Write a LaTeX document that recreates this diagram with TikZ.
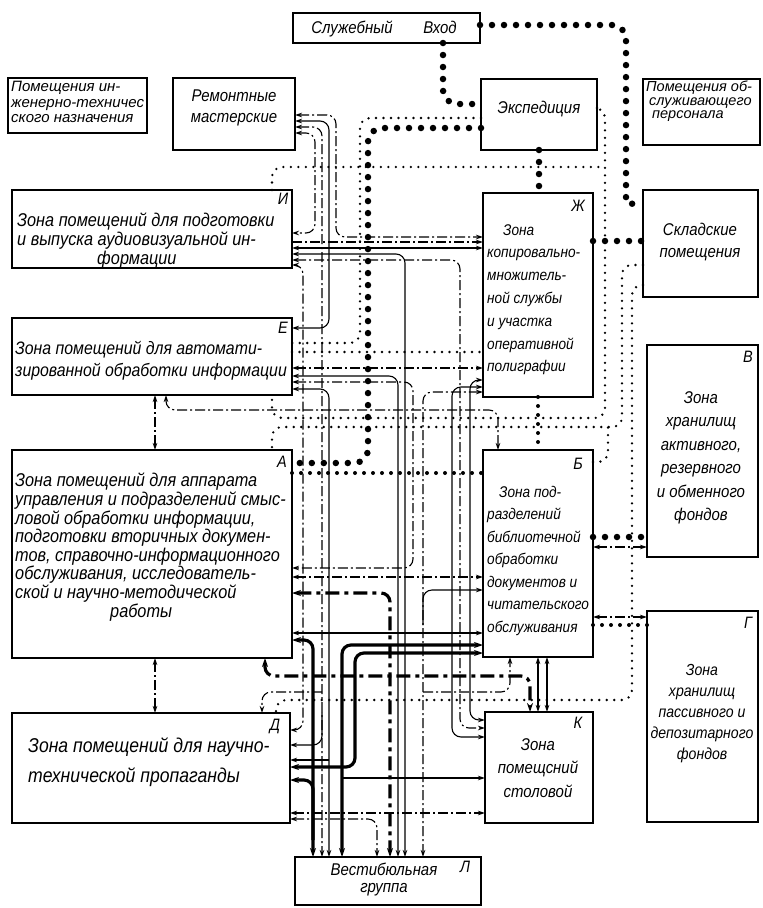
\documentclass[tikz,border=0pt]{standalone}
\usepackage{fontspec}
\setmainfont{Liberation Sans}[FakeStretch=0.88]
\newfontfamily\nf{Liberation Sans}
\usetikzlibrary{arrows.meta,calc}
\newcommand{\zbx}[5]{\node[box,minimum width={(#4)-(#2)},minimum height={(#5)-(#3)}] (#1) at (#2,#3) {};}
\newcommand{\fs}[2]{\itshape\fontsize{#1}{#2}\selectfont}
\begin{document}
\begin{tikzpicture}[x=1pt,y=-1pt,
  box/.style={draw,line width=2.2pt,inner sep=0pt,outer sep=0pt,anchor=north west},
  txt/.style={inner sep=0pt,font=\fs{17}{20},align=left,anchor=north west},
  ctxt/.style={txt,align=center,anchor=north},
  lbl/.style={inner sep=0pt,font=\fs{16.5}{16.5}},
  con/.style={line width=1.1pt,rounded corners=9pt,>={Stealth[length=7pt,width=4.5pt]}},
  th/.style={con},
  dd/.style={con,dash pattern=on 10pt off 3pt on 2pt off 3pt},
  thk/.style={con,line width=3.2pt,>={Stealth[length=9pt,width=6pt]}},
  tdd/.style={thk,dash pattern=on 14pt off 5pt on 4pt off 5pt},
  sdot/.style={line width=2.6pt,line cap=round,dash pattern=on 0pt off 7.5pt,rounded corners=10pt},
  mdot/.style={line width=4pt,line cap=round,dash pattern=on 0pt off 9pt,rounded corners=10pt},
  bdot/.style={line width=6.5pt,line cap=round,dash pattern=on 0pt off 12pt,rounded corners=14pt}]
\useasboundingbox (0,0) rectangle (763,908);
% boxes
\zbx{SV}{293}{13}{480}{43}
\zbx{PIT}{8}{78}{147}{133}
\zbx{RM}{173}{78}{295}{150}
\zbx{EX}{481}{79}{597}{150}
\zbx{POP}{643}{79}{760}{145}
\zbx{I}{12}{190}{292}{268}
\zbx{ZH}{483}{193}{593}{397}
\zbx{SK}{643}{190}{758}{297}
\zbx{E}{12}{318}{292}{395}
\zbx{V}{647}{345}{758}{557}
\zbx{A}{12}{450}{292}{658}
\zbx{B}{483}{450}{593}{657}
\zbx{G}{647}{611}{758}{822}
\zbx{D}{12}{713}{290}{823}
\zbx{K}{485}{712}{593}{823}
\zbx{L}{295}{857}{481}{905}
% texts
\node[ctxt] (tSV) at (384,21) {Служебный\hspace{1.8em}Вход};
\node[txt,font={\nf\fs{15}{15.5}}] (tPIT) at (11,81) {Помещения ин-\\женерно-техничес\\ского назначения};
\node[ctxt,font=\fs{17}{21}] (tRM) at (234,90) {Ремонтные\\мастерские};
\node[ctxt] (tEX) at (539,101) {Экспедиция};
\node[txt,font={\nf\fs{14.5}{13.5}}] (tPOP) at (646,81) {Помещения об-\\\hspace*{3pt}служивающего\\\hspace*{6pt}персонала};
\node[txt,font=\fs{18.5}{19}] (tI) at (17,213) {Зона помещений для подготовки\\и выпуска аудиовизуальной ин-\\\hspace*{80pt}формации};
\node[txt,font=\fs{18}{22}] (tE) at (15,341) {Зона помещений для автомати-\\зированной обработки информации};
\node[txt,font=\fs{18.5}{18.6}] (tA) at (15,473) {Зона помещений для аппарата\\управления и подразделений смыс-\\ловой обработки информации,\\подготовки вторичных докумен-\\тов, справочно-информационного\\обслуживания, исследователь-\\ской и научно-методической\\\hspace*{95pt}работы};
\node[txt,font=\fs{15.5}{22.8}] (tZH) at (487,224) {\hspace*{16pt}Зона\\копировально-\\множитель-\\ной службы\\и участка\\оперативной\\полиграфии};
\node[ctxt,font=\fs{17}{22}] (tSK) at (700,223) {Складские\\помещения};
\node[ctxt,font=\fs{17}{23.5}] (tV) at (701,391) {Зона\\хранилищ\\активного,\\резервного\\и обменного\\фондов};
\node[txt,font=\fs{15.5}{22.5}] (tB) at (487,486) {\hspace*{12pt}Зона под-\\разделений\\библиотечной\\обработки\\документов и\\читательского\\обслуживания};
\node[ctxt,font=\fs{16}{21}] (tG) at (702,664) {Зона\\хранилищ\\пассивного и\\депозитарного\\фондов};
\node[txt,font=\fs{20}{30}] (tD) at (28,738) {Зона помещений для научно-\\технической пропаганды};
\node[ctxt,font=\fs{17}{23.5}] (tK) at (538,738) {Зона\\помещсний\\столовой};
\node[ctxt,font=\fs{17}{17}] (tL) at (384,863) {Вестибюльная\\группа};
% letters
\node[lbl] (lI) at (283,199) {И};
\node[lbl] (lE) at (283,328) {Е};
\node[lbl] (lA) at (282,462) {А};
\node[lbl] (lD) at (275,726) {Д};
\node[lbl] (lZH) at (578,206) {Ж};
\node[lbl] (lB) at (578,464) {Б};
\node[lbl] (lV) at (748,357) {В};
\node[lbl] (lG) at (748,623) {Г};
\node[lbl] (lK) at (578,723) {К};
\node[lbl] (lL) at (465,867) {Л};
% junctions
\coordinate (jB) at (423,625);
\coordinate (jC) at (423,692);
\coordinate (jD1) at (322,712);
\coordinate (jD2) at (329,760);
\coordinate (jD3) at (322,692);
\coordinate (j1) at (342,778);
% dotted routes
\draw[bdot] (443,0 |- SV.south) |- (EX.west |- 0,104);
\draw[bdot] (SV.east |- 0,25) -| (626,188) to[out=-90,in=180] (SK.west |- 0,207);
\draw[bdot] (EX.south) -- (EX.south |- ZH.north);
\draw[bdot] (ZH.east |- 0,241) -- (SK.west |- 0,241);
\draw[bdot] (EX.west |- 0,128) -| (368,463) -- (A.east |- 0,463);
\draw[sdot] (EX.west |- 0,118) -| (360,343) -- (E.east |- 0,343);
\draw[sdot] (272,0 |- I.north) |- (605,167);
\draw[sdot] (EX.east |- 0,108) -| (605,418) -| (272,0 |- E.south);
\draw[sdot] (SK.west |- 0,265) -| (622,427) -| (272,0 |- A.north);
\draw[sdot] (B.east |- 0,462) -| (608,427);
\draw[sdot] (SK.west |- 0,285) -| (632,700) -| (276,0 |- D.north);
\draw[sdot] (E.east |- 0,352) -- (ZH.west |- 0,352);
\draw[mdot] (ZH.south) -- (ZH.south |- B.north);
\draw[mdot] (A.east |- 0,473) -- (B.west |- 0,473);
\draw[bdot] (B.east |- 0,537) -- (V.west |- 0,537);
\draw[mdot] (B.east |- 0,625) -- (G.west |- 0,625);
% from repair shops
\draw[dd,<->] (RM.east |- 0,115) -| (336,237) -- (ZH.west |- 0,237);
\draw[th,<->] (RM.east |- 0,121) -| (329,328) -- (E.east |- 0,328);
\draw[dd,<->] (RM.east |- 0,127) -| (322,0 |- L.north);
\draw[dd,<->] (RM.east |- 0,133) -| (315,233) -- (I.east |- 0,233);
% from I
\draw[dd,->] (I.east |- 0,242) -- (ZH.west |- 0,242);
\draw[th,<->] (I.east |- 0,248) -- (ZH.west |- 0,248);
\draw[th,<->] (I.east |- 0,254) -| (405,0 |- L.north);
\draw[dd,<->] (I.east |- 0,260) -| (460,728) -- (K.west |- 0,728);
\draw[dd,<->] (I.east |- 0,265) -| (303,730) -- (D.east |- 0,730);
% from E
\draw[dd,<->] (E.east |- 0,368) -- (ZH.west |- 0,368);
\draw[th,<->] (E.east |- 0,376) -| (398,0 |- L.north);
\draw[dd,<->] (E.east |- 0,382) -| (413,568) -- (A.east |- 0,568);
\draw[th,<->] (E.east |- 0,389) -| (329,0 |- L.north);
\draw[dd,<->] (155,0 |- E.south) -- (155,0 |- A.north);
\draw[dd,<->] (166,0 |- E.south) |- (498,410) -- (498,0 |- B.north);
% from A
\draw[dd,<->] (A.east |- 0,577) -- (B.west |- 0,577);
\draw[tdd,<->] (A.east |- 0,593) -| (390,0 |- L.north);
\draw[th,<->] (A.east |- 0,633) -- (B.west |- 0,633);
\draw[thk,<->] (A.east |- 0,640) -| (313,0 |- L.north);
\draw[tdd,<->] (265,0 |- A.south) |- (530,676) -- (530,0 |- K.north);
\draw[dd,<->] (155,0 |- A.south) -- (155,0 |- D.north);
% B
\draw[th,->] (jB) |- (B.west |- 0,590);
\draw[thk,<->] (342,0 |- L.north) |- (B.west |- 0,645);
\draw[thk,<->] (D.east |- 0,767) -| (355,653) -- (B.west |- 0,653);
\draw[dd,<->] (B.east |- 0,547) -- (V.west |- 0,547);
\draw[dd,<->] (B.east |- 0,617) -- (G.west |- 0,617);
\draw[th,<->] (538,0 |- B.south) -- (538,0 |- K.north);
\draw[th,<->] (547,0 |- B.south) -- (547,0 |- K.north);
\draw[dd,->] (jC) -| (510,0 |- B.south);
% ZH
\draw[dd,<->] (ZH.west |- 0,392) -| (423,0 |- L.north);
\draw[th,<->] (ZH.west |- 0,380) -| (470,720) -- (K.west |- 0,720);
\draw[th,<->] (ZH.west |- 0,387) -| (452,737) -- (K.west |- 0,737);
% D
\draw[th,->] (jD1) |- (D.east |- 0,745);
\draw[th,->] (jD2) -- (D.east |- 0,760);
\draw[thk,<-] (D.east |- 0,780) -| (313,840);
\draw[dd,<->] (D.east |- 0,813) -- (K.west |- 0,813);
\draw[dd,<->] (D.east |- 0,819) -| (377,0 |- L.north);
\draw[dd,->] (jD3) -| (262,0 |- D.north);
% K
\draw[th,->] (j1) -- (K.west |- 0,778);
\end{tikzpicture}
\end{document}
